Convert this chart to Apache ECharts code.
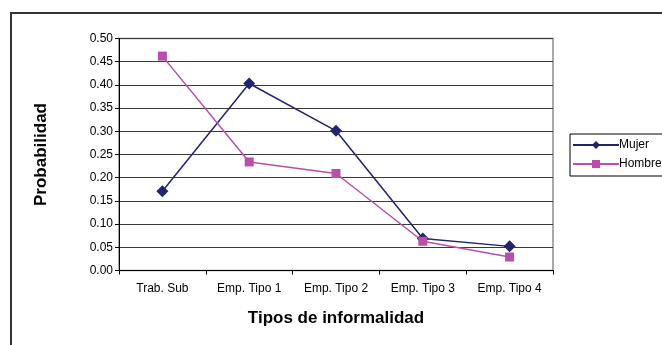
<!DOCTYPE html>
<html>
<head>
<meta charset="utf-8">
<script src="https://cdn.jsdelivr.net/npm/echarts@6/dist/echarts.min.js"></script>
<style>
  html, body { margin: 0; padding: 0; background: #fff; }
  #chart { width: 662px; height: 345px; }
</style>
</head>
<body>
<div id="chart"></div>
<script>
// Probabilidad por tipo de informalidad, según sexo
const categories = ['Trab. Sub', 'Emp. Tipo 1', 'Emp. Tipo 2', 'Emp. Tipo 3', 'Emp. Tipo 4'];
const mujer = [0.171, 0.403, 0.301, 0.069, 0.052];
const hombre = [0.462, 0.234, 0.209, 0.063, 0.029];
const seriesNames = ['Mujer', 'Hombre'];

const font = 'Liberation Sans, Arial, sans-serif';
const chart = echarts.init(document.getElementById('chart'), null, { renderer: 'canvas' });

chart.setOption({
  animation: false,
  backgroundColor: '#fff',
  grid: {
    left: 119, right: 109, top: 38.5, bottom: 74.5,
    show: true, borderColor: '#8c8c8c', borderWidth: 1.5
  },
  legend: {
    data: seriesNames,
    orient: 'vertical',
    left: 570, top: 134,
    padding: [5, 4, 6, 2],
    itemGap: 7,
    itemWidth: 46, itemHeight: 10,
    borderColor: '#000', borderWidth: 1,
    textStyle: { fontFamily: font, fontSize: 12, color: '#000', padding: [0, 0, 0, -5] }
  },
  xAxis: {
    type: 'category',
    data: categories,
    boundaryGap: true,
    name: 'Tipos de informalidad',
    nameLocation: 'middle',
    nameGap: 39,
    nameTextStyle: { fontFamily: font, fontSize: 17, fontWeight: 'bold', color: '#000' },
    axisLine: { lineStyle: { color: '#000', width: 1 } },
    axisTick: { show: true, length: 4, lineStyle: { color: '#000' } },
    axisLabel: { fontFamily: font, fontSize: 12, color: '#000', margin: 12 }
  },
  yAxis: {
    type: 'value',
    min: 0, max: 0.5, interval: 0.05,
    name: 'Probabilidad',
    nameLocation: 'middle',
    nameGap: 69,
    nameTextStyle: { fontFamily: font, fontSize: 17, fontWeight: 'bold', color: '#000' },
    axisLine: { show: true, lineStyle: { color: '#000', width: 1 } },
    axisTick: { show: true, length: 4, lineStyle: { color: '#000' } },
    axisLabel: {
      fontFamily: font, fontSize: 12, color: '#000', margin: 6,
      formatter: v => v.toFixed(2)
    },
    splitLine: { show: true, lineStyle: { color: '#3a3a3a', width: 1 } }
  },
  series: [
    {
      name: seriesNames[0],
      type: 'line',
      data: mujer,
      symbol: 'diamond',
      symbolSize: 12,
      lineStyle: { color: '#23236e', width: 1.5 },
      itemStyle: { color: '#23236e' }
    },
    {
      name: seriesNames[1],
      type: 'line',
      data: hombre,
      symbol: 'rect',
      symbolSize: 9,
      lineStyle: { color: '#b94fab', width: 1.5 },
      itemStyle: { color: '#b94fab' }
    }
  ],
  graphic: [
    {
      type: 'polyline',
      shape: { points: [[11, 345], [11, 13], [662, 13]] },
      style: { stroke: '#333', lineWidth: 2, fill: null }
    }
  ]
});
</script>
</body>
</html>
